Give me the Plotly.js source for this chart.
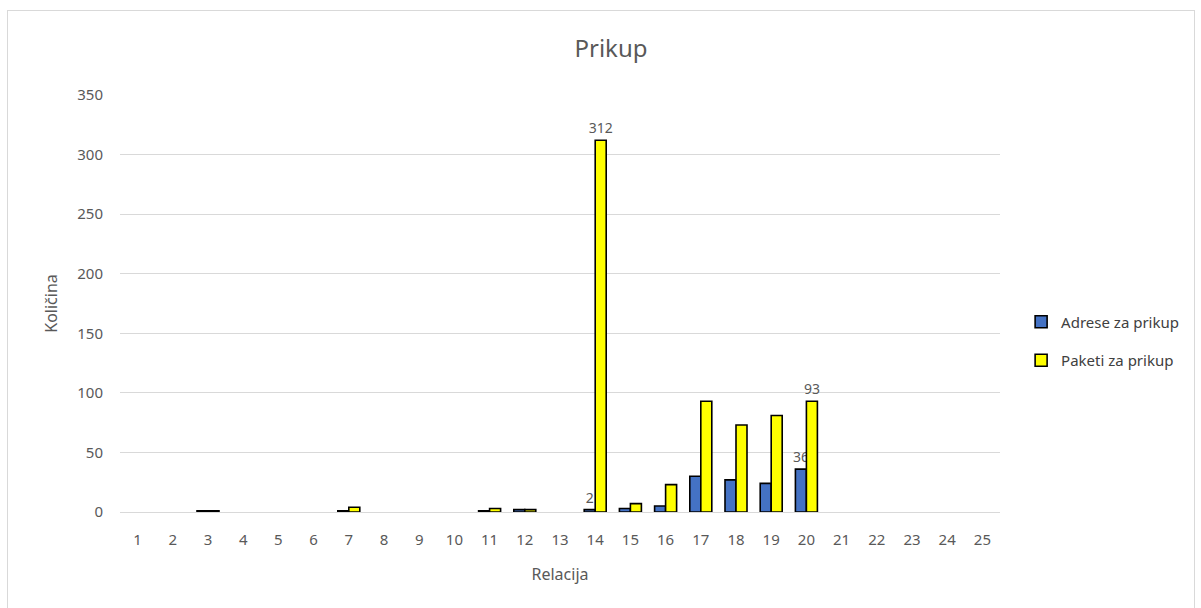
<!DOCTYPE html>
<html>
<head>
<meta charset="utf-8">
<script src="https://cdn.plot.ly/plotly-3.0.1.min.js"></script>
<style>
  html, body { margin: 0; padding: 0; background: #ffffff; }
  #frame { position: absolute; left: 7px; top: 10px; width: 1188px; height: 620px; border: 1px solid #d9d9d9; box-sizing: border-box; }
  #chart { position: absolute; left: 0; top: 0; width: 1201px; height: 608px; }
</style>
</head>
<body>
<div id="frame"></div>
<div id="chart"></div>
<script>
const categories = ['1','2','3','4','5','6','7','8','9','10','11','12','13','14','15','16','17','18','19','20','21','22','23','24','25'];
const adreseZaPrikup = [0,0,1,0,0,0,1,0,0,0,1,2,0,2,3,5,30,27,24,36,0,0,0,0,0];
const paketiZaPrikup = [0,0,1,0,0,0,4,0,0,0,3,2,0,312,7,23,93,73,81,93,0,0,0,0,0];
const labeledCategories = ['14','20'];

function labelsFor(values) {
  return categories.map((c, i) => labeledCategories.includes(c) ? String(values[i]) : '');
}
// zero values draw no visible bar (no outline)
function visibleValues(values) {
  return values.map(v => v === 0 ? null : v);
}

const textFont = { family: 'Noto Sans, sans-serif', size: 14, color: '#595959' };

const traces = [
  {
    type: 'bar', name: 'Adrese za prikup', legendgroup: 'a', x: categories, y: visibleValues(adreseZaPrikup),
    marker: { color: '#4472C4', line: { color: '#000000', width: 1.6 } },
    text: labelsFor(adreseZaPrikup), textposition: 'outside', cliponaxis: false, constraintext: 'none',
    textfont: textFont
  },
  {
    type: 'bar', name: 'Paketi za prikup', legendgroup: 'b', x: categories, y: visibleValues(paketiZaPrikup),
    marker: { color: '#FFFF00', line: { color: '#000000', width: 1.6 } },
    text: labelsFor(paketiZaPrikup), textposition: 'outside', cliponaxis: false, constraintext: 'none',
    textfont: textFont
  }
];

const layout = {
  width: 1201, height: 608,
  paper_bgcolor: 'rgba(0,0,0,0)', plot_bgcolor: 'rgba(0,0,0,0)',
  margin: { l: 120, r: 201, t: 95, b: 96, pad: 0, autoexpand: false },
  font: { family: 'Noto Sans, sans-serif', size: 14, color: '#595959' },
  title: { text: 'Prikup', font: { size: 24, color: '#595959' }, x: 611/1201, xanchor: 'center', xref: 'container', y: 1 - 49/608, yanchor: 'middle' },
  barmode: 'group', bargap: 0.375, bargroupgap: 0,
  xaxis: {
    type: 'category', showgrid: false, showline: false, zeroline: false, ticks: '',
    tickfont: { size: 15, color: '#595959' }, ticklabelstandoff: 17,
    title: { text: 'Relacija', font: { size: 16, color: '#595959' }, standoff: 20 }
  },
  yaxis: {
    range: [0, 350], dtick: 50, showgrid: true, gridcolor: '#d9d9d9', gridwidth: 1,
    zeroline: true, zerolinecolor: '#d9d9d9', zerolinewidth: 1, showline: false, ticks: '',
    tickfont: { size: 15, color: '#595959' }, ticklabelstandoff: 16,
    title: { text: 'Količina', font: { size: 16, color: '#595959' }, standoff: 15 }
  },
  showlegend: true,
  legend: {
    x: 1.024, xanchor: 'left', y: 0.41, yanchor: 'middle',
    font: { size: 15, color: '#404040' }, tracegroupgap: 16, itemwidth: 30,
    bgcolor: 'rgba(0,0,0,0)'
  }
};

Plotly.newPlot('chart', traces, layout, { displayModeBar: false, staticPlot: true });
</script>
</body>
</html>
